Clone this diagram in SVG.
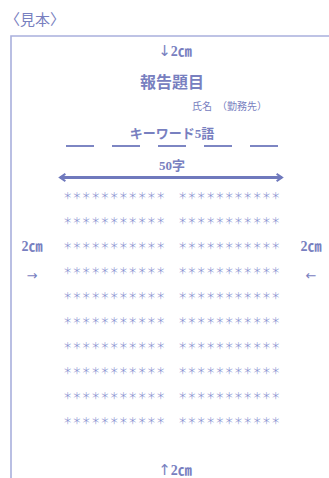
<svg xmlns="http://www.w3.org/2000/svg" width="329" height="478" viewBox="0 0 329 478">
<style>
text{fill:#7880c0;font-family:"Liberation Serif","Noto Sans CJK JP",serif}
.t{font-weight:bold}
.ar{font-family:"DejaVu Sans",sans-serif;font-weight:normal}
.ast{font-family:"Noto Sans CJK JP",sans-serif;font-size:9.3px;fill:#8c95d2}
.frame{fill:none;stroke:#a9b0dd;stroke-width:1.6}
.dash{stroke:#6f79bd;stroke-width:1.8}
</style>
<defs>
<marker id="ah" viewBox="0 0 10 10" refX="7" refY="5" markerWidth="3" markerHeight="3" orient="auto-start-reverse" markerUnits="strokeWidth">
<path d="M1,1 L7,5 L1,9" fill="none" stroke="#6f79bd" stroke-width="2.2"/>
</marker>
</defs>
<text x="5" y="25" style="font-family:'Noto Sans CJK JP',sans-serif;font-size:15px">〈見本〉</text>
<path class="frame" d="M11,478 V36 H329"/>
<g id="top-margin"><text class="t" x="175" y="56" font-size="14" text-anchor="middle"><tspan class="ar" font-size="15">↓</tspan>2㎝</text></g>
<g id="title"><text class="t" x="172" y="88" font-size="16" text-anchor="middle">報告題目</text></g>
<g id="name"><text x="192" y="110" font-size="10">氏名　（勤務先）</text></g>
<g id="keywords"><text class="t" x="172" y="138" font-size="13" text-anchor="middle">キーワード5語</text>
<line class="dash" x1="66" y1="146" x2="94" y2="146"/>
<line class="dash" x1="112" y1="146" x2="140" y2="146"/>
<line class="dash" x1="158" y1="146" x2="186" y2="146"/>
<line class="dash" x1="204" y1="146" x2="232" y2="146"/>
<line class="dash" x1="250" y1="146" x2="278" y2="146"/></g>
<g id="width"><text class="t" x="172" y="170" font-size="13" text-anchor="middle">50字</text></g>
<g id="connectors"><line x1="60" y1="177.5" x2="282" y2="177.5" stroke="#6f79bd" stroke-width="3" marker-start="url(#ah)" marker-end="url(#ah)"/></g>
<g id="body">
<text class="ast" x="63" y="198.5">＊＊＊＊＊＊＊＊＊＊＊</text><text class="ast" x="178" y="198.5">＊＊＊＊＊＊＊＊＊＊＊</text>
<text class="ast" x="63" y="223.5">＊＊＊＊＊＊＊＊＊＊＊</text><text class="ast" x="178" y="223.5">＊＊＊＊＊＊＊＊＊＊＊</text>
<text class="ast" x="63" y="248.5">＊＊＊＊＊＊＊＊＊＊＊</text><text class="ast" x="178" y="248.5">＊＊＊＊＊＊＊＊＊＊＊</text>
<text class="ast" x="63" y="273.5">＊＊＊＊＊＊＊＊＊＊＊</text><text class="ast" x="178" y="273.5">＊＊＊＊＊＊＊＊＊＊＊</text>
<text class="ast" x="63" y="298.5">＊＊＊＊＊＊＊＊＊＊＊</text><text class="ast" x="178" y="298.5">＊＊＊＊＊＊＊＊＊＊＊</text>
<text class="ast" x="63" y="323.5">＊＊＊＊＊＊＊＊＊＊＊</text><text class="ast" x="178" y="323.5">＊＊＊＊＊＊＊＊＊＊＊</text>
<text class="ast" x="63" y="348.5">＊＊＊＊＊＊＊＊＊＊＊</text><text class="ast" x="178" y="348.5">＊＊＊＊＊＊＊＊＊＊＊</text>
<text class="ast" x="63" y="373.5">＊＊＊＊＊＊＊＊＊＊＊</text><text class="ast" x="178" y="373.5">＊＊＊＊＊＊＊＊＊＊＊</text>
<text class="ast" x="63" y="398.5">＊＊＊＊＊＊＊＊＊＊＊</text><text class="ast" x="178" y="398.5">＊＊＊＊＊＊＊＊＊＊＊</text>
<text class="ast" x="63" y="423.5">＊＊＊＊＊＊＊＊＊＊＊</text><text class="ast" x="178" y="423.5">＊＊＊＊＊＊＊＊＊＊＊</text>
</g>
<g id="left-margin"><text class="t" x="32" y="251" font-size="14" text-anchor="middle">2㎝</text><text class="ar" x="32" y="280" font-size="13" text-anchor="middle">→</text></g>
<g id="right-margin"><text class="t" x="311" y="251" font-size="14" text-anchor="middle">2㎝</text><text class="ar" x="311" y="280" font-size="13" text-anchor="middle">←</text></g>
<g id="bottom-margin"><text class="t" x="175" y="475" font-size="14" text-anchor="middle"><tspan class="ar" font-size="15">↑</tspan>2㎝</text></g>
</svg>
